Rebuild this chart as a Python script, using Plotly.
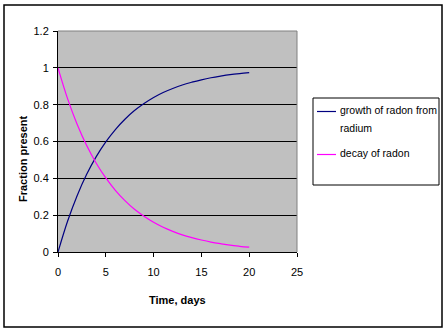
import plotly.graph_objects as go

# Time in days and fraction of radon present
days = list(range(0, 21))
decay_of_radon = [1.000, 0.833, 0.694, 0.578, 0.482, 0.402, 0.335, 0.279, 0.232, 0.194,
                  0.161, 0.134, 0.112, 0.093, 0.078, 0.065, 0.054, 0.045, 0.037, 0.031, 0.026]
growth_of_radon = [0.000, 0.167, 0.306, 0.422, 0.518, 0.598, 0.665, 0.721, 0.768, 0.806,
                   0.839, 0.866, 0.888, 0.907, 0.922, 0.935, 0.946, 0.955, 0.963, 0.969, 0.974]

series_names = ["growth of radon from radium", "decay of radon"]
legend_lines = [["growth of radon from", "radium"], ["decay of radon"]]
series_colors = ["#000080", "#FF00FF"]

x_ticks = [0, 5, 10, 15, 20, 25]
y_ticks = [0, 0.2, 0.4, 0.6, 0.8, 1.0, 1.2]

FONT = "Liberation Sans, Arial, sans-serif"

W, H = 448, 335
L, R, T, B = 58, 151, 31, 83
PW, PH = W - L - R, H - T - B


def px(xp):
    return (xp - L) / PW


def py(yp):
    return (H - B - yp) / PH


fig = go.Figure()
for name, ys, col in zip(series_names, [growth_of_radon, decay_of_radon], series_colors):
    fig.add_trace(go.Scatter(x=days, y=ys, mode="lines", name=name,
                             line=dict(color=col, width=1.2, shape="spline"),
                             showlegend=False))

shapes = [
    # outer chart border
    dict(type="rect", xref="paper", yref="paper", x0=px(4), x1=px(442), y0=py(327), y1=py(5),
         line=dict(color="black", width=1.5), layer="below"),
    # plot area frame on top and right
    dict(type="path", xref="paper", yref="paper",
         path=f"M {px(58)} {py(31)} L {px(297)} {py(31)} L {px(297)} {py(252)}",
         line=dict(color="#808080", width=1), layer="above"),
    # legend box
    dict(type="rect", xref="paper", yref="paper", x0=px(313), x1=px(439), y0=py(185), y1=py(98),
         line=dict(color="black", width=1), fillcolor="white", layer="below"),
]

annotations = [
    dict(text="<b>Time, days</b>", xref="paper", yref="paper", x=px(177), y=py(300),
         xanchor="center", yanchor="middle",
         showarrow=False, font=dict(family=FONT, size=11, color="black")),
    dict(text="<b>Fraction present</b>", xref="paper", yref="paper", x=px(23), y=py(159),
         xanchor="center", yanchor="middle",
         textangle=-90, showarrow=False, font=dict(family=FONT, size=11, color="black")),
]

# legend entries
legend_rows = [111.5, 154.5]
text_rows = [[110, 128], [153]]
for col, ly, lines, trows in zip(series_colors, legend_rows, legend_lines, text_rows):
    shapes.append(dict(type="line", xref="paper", yref="paper", x0=px(317), x1=px(336),
                       y0=py(ly), y1=py(ly), line=dict(color=col, width=1.2)))
    for txt, ty in zip(lines, trows):
        annotations.append(dict(text=txt, xref="paper", yref="paper", x=px(338), y=py(ty),
                                xanchor="left", yanchor="middle", showarrow=False,
                                font=dict(family=FONT, size=10.5, color="black")))

fig.update_layout(
    width=W, height=H,
    margin=dict(l=L, r=R, t=T, b=B, pad=0),
    paper_bgcolor="white",
    plot_bgcolor="#C0C0C0",
    font=dict(family=FONT, size=11, color="black"),
    shapes=shapes,
    annotations=annotations,
    xaxis=dict(range=[0, 25], tickvals=x_ticks, showgrid=False, zeroline=False,
               showline=True, linecolor="black", linewidth=1,
               ticks="outside", ticklen=4, tickcolor="black", tickwidth=1,
               ticklabelstandoff=6, tickfont=dict(family=FONT, size=11, color="black")),
    yaxis=dict(range=[0, 1.2], tickvals=y_ticks, showgrid=True, gridcolor="black", gridwidth=1,
               zeroline=False, showline=True, linecolor="black", linewidth=1,
               ticks="outside", ticklen=4, tickcolor="black", tickwidth=1,
               ticklabelstandoff=2, tickfont=dict(family=FONT, size=11, color="black")),
)

fig.write_html("out.html")
